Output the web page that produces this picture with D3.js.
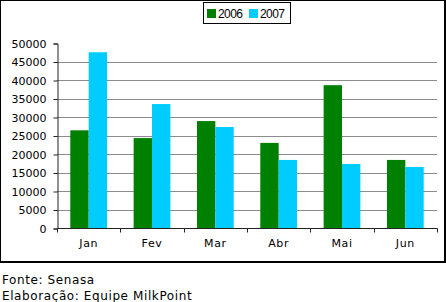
<!DOCTYPE html>
<html lang="pt">
<head>
<meta charset="UTF-8">
<title>Senasa 2006 x 2007</title>
<script src="https://d3js.org/d3.v7.min.js"></script>
<style>
    body { margin: 0; background: #fff; }
    .lbl { font-family: "DejaVu Sans", Verdana, sans-serif; font-size: 11px; fill: #000; }
    .xl { letter-spacing: 0.6px; }
    .foot { font-family: "DejaVu Sans", Verdana, sans-serif; font-size: 12px; fill: #000; letter-spacing: 0.6px; }
    .leg { font-family: "Liberation Sans", Arial, sans-serif; font-size: 12px; fill: #000; }
</style>
</head>
<body>
<svg id="chart" width="446" height="302"></svg>
<script>
    const months = ["Jan", "Fev", "Mar", "Abr", "Mai", "Jun"];
    const seriesNames = ["2006", "2007"];
    const values2006 = [26400, 24300, 28900, 23000, 38600, 18400];
    const values2007 = [47500, 33500, 27300, 18400, 17300, 16500];
    const yTicks = [0, 5000, 10000, 15000, 20000, 25000, 30000, 35000, 40000, 45000, 50000];
    const colors = ["#008000", "#00ccff"];

    const svg = d3.select("#chart");
    const plotLeft = 57, plotRight = 437, plotTop = 43, plotBottom = 228;

    // frame round the chart area
    svg.append("rect")
        .attr("x", 0).attr("y", 0)
        .attr("width", 445).attr("height", 262)
        .attr("fill", "none").attr("stroke", "#000").attr("stroke-width", 2);

    const x = d3.scaleBand().domain(months).range([plotLeft, plotRight]).padding(0);
    const x1 = d3.scaleBand().domain(seriesNames)
        .range([x.bandwidth() * 0.21, x.bandwidth() * 0.79]).padding(0);
    const y = d3.scaleLinear().domain([0, 50000]).range([plotBottom, plotTop]);

    // grid lines
    svg.append("g")
        .selectAll("line")
        .data(yTicks.filter(d => d > 0 && d < 50000))
        .join("line")
        .attr("x1", plotLeft).attr("x2", plotRight)
        .attr("y1", d => Math.round(y(d)) + 0.5).attr("y2", d => Math.round(y(d)) + 0.5)
        .attr("stroke", "#8c8c8c").attr("stroke-width", 1);

    const data = months.map((m, i) => ({ month: m, vals: [values2006[i], values2007[i]] }));

    svg.append("g")
        .selectAll("g")
        .data(data)
        .join("g")
        .attr("transform", d => `translate(${x(d.month)},0)`)
        .selectAll("rect")
        .data(d => d.vals.map((v, j) => ({ name: seriesNames[j], v, j })))
        .join("rect")
        .attr("x", d => x1(d.name))
        .attr("width", x1.bandwidth())
        .attr("y", d => y(d.v))
        .attr("height", d => y(0) - y(d.v))
        .attr("fill", d => colors[d.j]);

    // y axis
    const yAxis = svg.append("g")
        .attr("transform", `translate(${plotLeft + 0.5},0.5)`)
        .call(d3.axisLeft(y).tickValues(yTicks).tickSize(4).tickPadding(7).tickFormat(d3.format("d")));
    yAxis.selectAll("text").attr("class", "lbl").attr("font-family", null).attr("font-size", null);
    yAxis.selectAll("line, path").attr("stroke", "#222");

    // x axis, ticks at band edges
    const xAxis = svg.append("g").attr("transform", `translate(0,${plotBottom + 0.5})`);
    xAxis.append("line")
        .attr("x1", plotLeft).attr("x2", plotRight + 0.5)
        .attr("stroke", "#222");
    xAxis.selectAll(".tk")
        .data(months.map(m => x(m)).concat([plotRight]))
        .join("line")
        .attr("class", "tk")
        .attr("x1", d => Math.round(d) + 0.5).attr("x2", d => Math.round(d) + 0.5)
        .attr("y1", 0).attr("y2", 4)
        .attr("stroke", "#222");
    xAxis.selectAll("text")
        .data(months)
        .join("text")
        .attr("class", "lbl xl")
        .attr("x", d => x(d) + x.bandwidth() / 2)
        .attr("y", 18.5)
        .attr("text-anchor", "middle")
        .text(d => d);

    // legend
    const leg = svg.append("g");
    leg.append("rect")
        .attr("x", 203.5).attr("y", 2.5).attr("width", 87).attr("height", 21)
        .attr("fill", "#fff").attr("stroke", "#000");
    seriesNames.forEach((s, i) => {
        leg.append("rect")
            .attr("x", 207 + i * 42).attr("y", 9).attr("width", 9).attr("height", 9)
            .attr("fill", colors[i]);
        leg.append("text")
            .attr("class", "leg")
            .attr("x", 218 + i * 42).attr("y", 18)
            .attr("textLength", 25)
            .text(s);
    });

    // footer
    svg.append("text").attr("class", "foot").attr("x", 2).attr("y", 284).text("Fonte: Senasa");
    svg.append("text").attr("class", "foot").attr("x", 2).attr("y", 300).text("Elaboração: Equipe MilkPoint");
</script>
</body>
</html>
